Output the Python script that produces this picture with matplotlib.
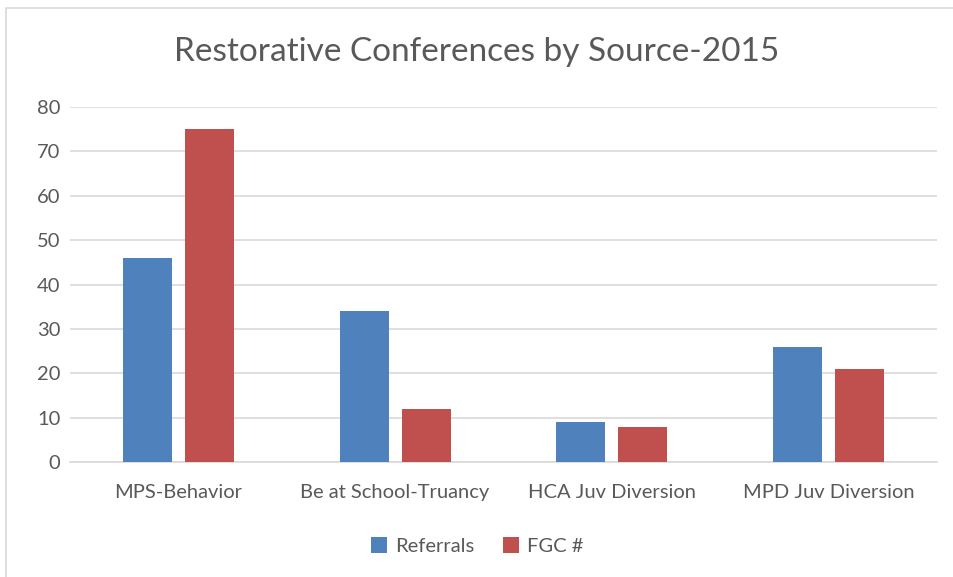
import matplotlib.pyplot as plt
import numpy as np
from matplotlib.patches import Rectangle

categories = ["MPS-Behavior", "Be at School-Truancy", "HCA Juv Diversion", "MPD Juv Diversion"]
referrals = [46, 34, 9, 26]
fgc = [75, 12, 8, 21]
yticks = [0, 10, 20, 30, 40, 50, 60, 70, 80]

plt.rcParams["font.family"] = ["Lato", "DejaVu Sans"]
text_color = "#595959"

fig = plt.figure(figsize=(9.54, 5.77), dpi=100)
ax = fig.add_axes([70 / 954, 1 - 462 / 577, 867 / 954, 355 / 577])

# outer chart border (runs off the right and bottom edges)
fig.patches.append(Rectangle((6 / 954, -0.05), 1.0, 1 - 8 / 577 + 0.05,
                             transform=fig.transFigure, fill=False,
                             edgecolor="#d9d9d9", linewidth=1.2))

x = np.arange(len(categories))
w = 0.226
ax.bar(x - 0.143, referrals, w, color="#4F81BD", label="Referrals", zorder=3)
ax.bar(x + 0.143, fgc, w, color="#C0504D", label="FGC #", zorder=3)

ax.set_xlim(-0.5, 3.5)
ax.set_ylim(0, 80)
ax.set_yticks(yticks)
ax.set_xticks(x)
ax.set_xticklabels(categories)
ax.grid(axis="y", color="#d9d9d9", linewidth=1.2, zorder=0)
for s in ["top", "right", "left"]:
    ax.spines[s].set_visible(False)
ax.spines["bottom"].set_color("#d9d9d9")
ax.spines["bottom"].set_linewidth(1.2)
ax.tick_params(axis="both", length=0, colors=text_color, labelsize=14.5)
ax.tick_params(axis="y", pad=7)
ax.tick_params(axis="x", pad=16)

fig.text(0.5, 1 - 52 / 577, "Restorative Conferences by Source-2015",
         ha="center", va="center", fontsize=24, color=text_color)

fig.legend(loc="center", bbox_to_anchor=(0.5, 1 - 546 / 577), ncol=2, frameon=False,
           fontsize=14.5, labelcolor=text_color, handlelength=0.8, handleheight=0.8,
           handletextpad=0.4, columnspacing=1.4)

fig.savefig("out.png", dpi=100)
